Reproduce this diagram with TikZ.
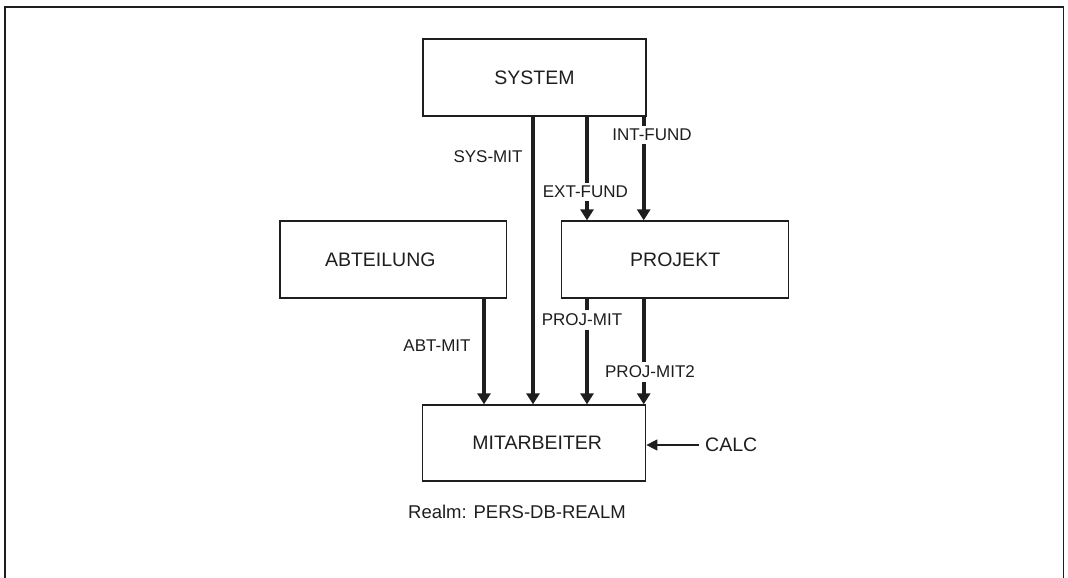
\documentclass[tikz,border=0pt]{standalone}
\usepackage{fontspec}
\setmainfont{Liberation Sans}
\usetikzlibrary{arrows.meta}
\definecolor{ink}{HTML}{1E1E1E}
\tikzset{
  box/.style={draw=ink, line width=1.3pt, rectangle, inner sep=0pt, text=ink,
    font=\fontsize{19.5}{22}\selectfont},
  lbl/.style={fill=white, inner xsep=1.5pt, inner ysep=3.5pt, text=ink, font=\fontsize{17}{20}\selectfont},
  arr/.style={draw=ink, line width=4pt, -{Triangle[width=13pt,length=11pt]}},
  thin arr/.style={draw=ink, line width=1.3pt, -{Triangle[width=11pt,length=11pt]}},
}
\begin{document}
\begin{tikzpicture}[x=1pt,y=-1pt]
\useasboundingbox (0,0) rectangle (1068,578);
% frame
\draw[ink, line width=1.4pt] (5,578) -- (5,7) -- (1063.3,7) -- (1063.3,578);

% boxes
\node[box, minimum width=223pt, minimum height=77pt] (sys) at (534.5,77.5) {SYSTEM};
\node[box, minimum width=226.7pt, minimum height=77pt] (abt) at (393.3,259.5) {ABTEILUNG\hspace*{26pt}};
\node[box, minimum width=227pt, minimum height=77pt] (proj) at (675.2,259.5) {PROJEKT};
\node[box, minimum width=223pt, minimum height=76pt] (mit) at (534.2,443) {\hspace*{6pt}MITARBEITER};

% x positions of connectors
\coordinate (xa) at (484,0);
\coordinate (xs) at (533,0);
\coordinate (xe) at (587,0);
\coordinate (xi) at (643.7,0);

% connectors
\draw[arr] (sys.south -| xs) -- (mit.north -| xs);
\draw[arr] (sys.south -| xe) -- (proj.north -| xe);
\draw[arr] (sys.south -| xi) -- (proj.north -| xi);
\draw[arr] (abt.south -| xa) -- (mit.north -| xa);
\draw[arr] (proj.south -| xe) -- (mit.north -| xe);
\draw[arr] (proj.south -| xi) -- (mit.north -| xi);

% labels
\node[lbl, fill=none] (lsys) at (488,157) {SYS-MIT};
\node[lbl] (lext) at (585.4,192) {EXT-FUND};
\node[lbl] (lint) at (652,135) {INT-FUND};
\node[lbl] (lpm) at (582,320) {PROJ-MIT};
\node[lbl, fill=none] (labt) at (437,346) {ABT-MIT};
\node[lbl] (lpm2) at (650,372) {PROJ-MIT2};

% CALC
\node[text=ink, font=\fontsize{19.5}{22}\selectfont, anchor=west, inner sep=0pt] (calc) at (705,445) {CALC};
\coordinate (cs) at (699,445);
\draw[thin arr] (cs) -- (mit.east |- cs);

% realm
\node[text=ink, font=\fontsize{18.5}{22}\selectfont, anchor=west, inner sep=0pt] (realm) at (408,512) {Realm: PERS-DB-REALM};
\end{tikzpicture}
\end{document}
